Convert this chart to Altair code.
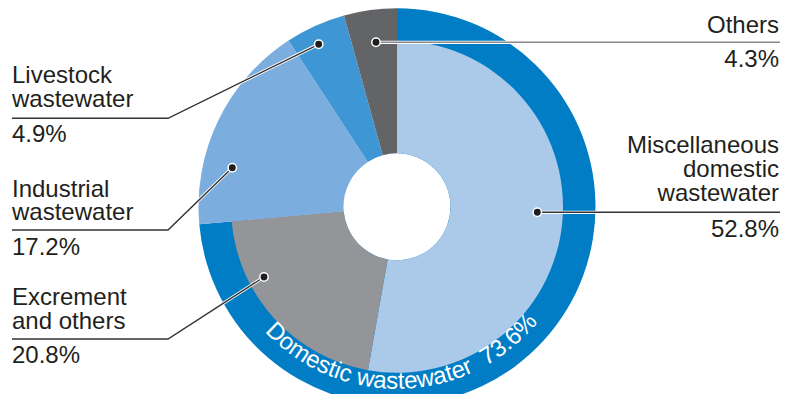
import math
import altair as alt
import pandas as pd

# ---------------- data ----------------
inner_cats = ["Miscellaneous domestic wastewater", "Excrement and others"]
inner_vals = [52.8, 20.8]
outer_cats = ["Domestic wastewater", "Industrial wastewater", "Livestock wastewater", "Others"]
outer_vals = [73.6, 17.2, 4.9, 4.3]
ring_text = "Domestic wastewater  73.6%"

all_cats = ["Domestic wastewater", "Miscellaneous domestic wastewater", "Excrement and others",
            "Industrial wastewater", "Livestock wastewater", "Others"]
all_colors = ["#007dc5", "#abc9e9", "#939598", "#7badde", "#3e97d4", "#636466"]

# labels: lines, percent, side
label_lines = ["Others", "Miscellaneous\ndomestic\nwastewater",
               "Livestock\nwastewater", "Industrial\nwastewater",
               "Excrement\nand others"]
label_pcts = ["4.3%", "52.8%", "4.9%", "17.2%", "20.8%"]
label_side = ["right", "right", "left", "left", "left"]
label_first_baseline = [25.3, 145.3, 75.3, 188.7, 297.0]
label_rule_y = [34.3, 204.3, 110.3, 222.0, 331.0]
label_pct_baseline = [58.7, 229.3, 133.7, 247.0, 355.3]
dot_x = [368.0, 529.3, 310.7, 224.3, 256.0]
dot_y = [34.3, 204.3, 36.3, 159.7, 269.0]
line_colors = ["#8a8a8a", "#333333", "#333333", "#333333", "#333333"]

W, H = 772, 386
center = [389.0, 198.8]
LEFT_X, RIGHT_X, KNEE_X = 4.0, 771.0, 160.0
LINE_GAP = 23.8

FONT = "Liberation Sans"
TXT = "#231f20"

# ---------------- tables ----------------
inner_df = pd.DataFrame({"cat": inner_cats, "value": inner_vals,
                         "idx": range(len(inner_cats)), "cx": center[0], "cy": center[1]})
outer_df = pd.DataFrame({"cat": outer_cats, "value": outer_vals,
                         "idx": range(len(outer_cats)), "cx": center[0], "cy": center[1]})

# ring text: per-character placement along the arc (Arial-like advance widths)
adv = {"D": 722, "o": 556, "m": 833, "e": 556, "s": 500, "t": 278, "i": 222, "c": 500,
       " ": 278, "w": 722, "a": 556, "r": 333, "7": 556, "3": 556, ".": 278, "6": 556, "%": 889}
ring_size = 24
ring_r = 182.0
mid_deg = 178.0
widths = [adv[ch] * ring_size / 1000.0 for ch in ring_text]
total = sum(widths)
start_deg = mid_deg + math.degrees(total / 2 / ring_r)
rows = []
cum = 0.0
for ch, w in zip(ring_text, widths):
    deg = start_deg - math.degrees((cum + w / 2) / ring_r)
    cum += w
    if ch == " ":
        continue
    rows.append({"ch": ch, "t": deg / 3.6, "rot": (deg - 180.0) % 360,
                 "cx": center[0], "cy": center[1]})
ring_df = pd.DataFrame(rows)

text_rows = []
line_rows = []
dot_rows = []
for i, lines in enumerate(label_lines):
    side = label_side[i]
    xx = RIGHT_X if side == "right" else LEFT_X
    text_rows.append({"txt": lines, "x": xx, "y": label_first_baseline[i], "side": side})
    text_rows.append({"txt": label_pcts[i], "x": xx, "y": label_pct_baseline[i], "side": side})
    key = label_pcts[i]
    if side == "right":
        pts = [(dot_x[i], dot_y[i]), (W, label_rule_y[i])]
    else:
        pts = [(LEFT_X, label_rule_y[i]), (KNEE_X, label_rule_y[i]), (dot_x[i], dot_y[i])]
    for k, (px, py) in enumerate(pts):
        line_rows.append({"key": key, "o": k, "x": px, "y": py, "lc": line_colors[i]})
    dot_rows.append({"x": dot_x[i], "y": dot_y[i]})
text_df = pd.DataFrame(text_rows)
line_df = pd.DataFrame(line_rows)
dot_df = pd.DataFrame(dot_rows)

# ---------------- scales ----------------
xs = alt.Scale(domain=[0, W], range=[0, W], nice=False, zero=False)
ys = alt.Scale(domain=[0, H], range=[0, H], nice=False, zero=False)
ts = alt.Scale(domain=[0, 100], range=[0, 2 * math.pi])
cs = alt.Scale(domain=all_cats, range=all_colors)

X = lambda f: alt.X(f, scale=xs, axis=None)
Y = lambda f: alt.Y(f, scale=ys, axis=None)

outer = alt.Chart(outer_df).mark_arc(radius=198.5, radius2=53.5, strokeWidth=0).encode(
    x=X("cx:Q"), y=Y("cy:Q"),
    theta=alt.Theta("value:Q", stack=True, scale=ts),
    order=alt.Order("idx:Q"),
    color=alt.Color("cat:N", scale=cs, legend=None),
)
inner = alt.Chart(inner_df).mark_arc(radius=166, radius2=53.5, strokeWidth=0).encode(
    x=X("cx:Q"), y=Y("cy:Q"),
    theta=alt.Theta("value:Q", stack=True, scale=ts),
    order=alt.Order("idx:Q"),
    color=alt.Color("cat:N", scale=cs, legend=None),
)
ring_lbl = alt.Chart(ring_df).mark_text(
    radius=ring_r, align="center", baseline="alphabetic", font=FONT,
    fontSize=ring_size, color="white"
).encode(
    x=X("cx:Q"), y=Y("cy:Q"),
    theta=alt.Theta("t:Q", stack=False, scale=ts),
    angle=alt.Angle("rot:Q", scale=None),
    text="ch:N",
)

halo = alt.Chart(line_df).mark_line(color="white", strokeWidth=3.2).encode(
    x=X("x:Q"), y=Y("y:Q"), detail="key:N", order="o:Q")
lines = alt.Chart(line_df).mark_line(strokeWidth=1.4).encode(
    x=X("x:Q"), y=Y("y:Q"), detail="key:N", order="o:Q",
    stroke=alt.Stroke("lc:N", scale=None))
dots = alt.Chart(dot_df).mark_point(
    shape="circle", filled=True, fill="#1e1e1e", stroke="white", strokeWidth=1.5,
    size=70, opacity=1).encode(x=X("x:Q"), y=Y("y:Q"))

def label_layer(side, align):
    return alt.Chart(text_df).transform_filter(alt.datum.side == side).transform_calculate(
        tl="split(datum.txt, '\\n')"
    ).mark_text(
        align=align, baseline="alphabetic", font=FONT, fontSize=24, color=TXT,
        lineHeight=LINE_GAP
    ).encode(x=X("x:Q"), y=Y("y:Q"), text="tl:N")

left_txt = label_layer("left", "left")
right_txt = label_layer("right", "right")

chart = alt.layer(outer, inner, ring_lbl, halo, lines, dots, left_txt, right_txt).properties(
    width=W, height=H, autosize=alt.AutoSizeParams(type="none"), padding=0,
    background="white"
).configure_view(stroke=None)

chart.save("out.html", embed_options={"renderer": "svg", "actions": False})
